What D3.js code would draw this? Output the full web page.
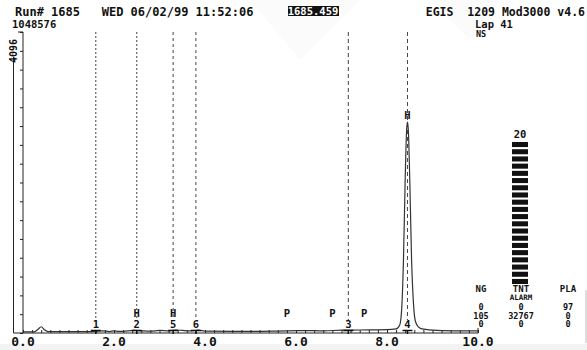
<!DOCTYPE html>
<html><head><meta charset="utf-8">
<script src="https://cdnjs.cloudflare.com/ajax/libs/d3/7.8.5/d3.min.js"></script>
<style>
html,body{margin:0;padding:0;background:#fff;}
svg{display:block;font-family:"DejaVu Sans Mono",monospace;font-weight:bold;}
text{white-space:pre;}
</style></head>
<body><svg id="c" width="587" height="350"></svg>
<script>
// ---- data ----
const traceTime = [0,0.25,0.33,0.4,0.47,0.55,1.0,1.5,1.6,1.75,1.9,2.0,2.1,2.3,2.45,2.6,2.8,3.0,3.2,3.35,3.5,3.7,3.85,4.0,5.0,5.8,6.2,6.6,7.0,7.2,7.6,8.0,8.2,8.28,8.32,8.36,8.40,8.43,8.45,8.47,8.50,8.54,8.58,8.62,8.68,8.75,9.0,9.5,10.0];
const traceValue = [15,15,50,85,45,18,18,20,25,30,20,30,22,28,35,30,25,35,30,40,35,30,38,25,22,30,32,30,38,40,42,45,55,110,300,950,2100,2750,2870,2750,2100,1000,420,170,90,60,40,30,28];
const peakTimes  = [1.6,2.5,3.3,3.8,7.15,8.45];
const peakNums   = ["1","2","5","6","3","4"];
const peakDash   = ["2,2","2,2","3,3","3,3","4,3","4,3"];
const hMarkTimes = [2.5,3.3];
const pMarkTimes = [5.8,6.8,7.5];
const xTickLabels = ["0.0","2.0","4.0","6.0","8.0","10.0"];
const xTickValues = [0,2,4,6,8,10];
const yMaxLabel = "4096";
const meterCount = 20;
const tableHead = ["NG","TNT","PLA"];
const tableRows = [["0","0","97"],["105","32767","0"],["0","0","0"]];

const svg = d3.select("#c");
// faint background watermark
svg.append("path").attr("d","M150,0 L250,0 L300,60 L360,0 L430,0 L470,40 L500,0 Z").attr("fill","#fbfbfb");
svg.append("rect").attr("x",0).attr("y",344).attr("width",587).attr("height",6).attr("fill","#f3f3f3");

const x = d3.scaleLinear().domain([0,10]).range([23,478]);
const y = d3.scaleLinear().domain([0,4096]).range([333,32]);

// header texts
const T = (tx,ty,s,size,anchor)=>svg.append("text").attr("x",tx).attr("y",ty).attr("font-size",size||11.5)
  .attr("text-anchor",anchor||"start").attr("fill","#111").text(s);
T(15,16,"Run# 1685   WED 06/02/99 11:52:06",12);
T(12,28,"1048576",10.5);
svg.append("rect").attr("x",288).attr("y",6).attr("width",51).attr("height",10).attr("fill","#111");
T(313,15,"1685.459",10.5,"middle").attr("fill","#fff");
T(585,16,"EGIS  1209 Mod3000 v4.6",11.5,"end");
T(475,28,"Lap 41",10.5);
T(476,37,"NS",8.5);

// y axis
const yAxis = d3.axisLeft(y).tickValues(d3.range(0,4097,256)).tickSize(3).tickFormat("");
const gy = svg.append("g").attr("transform","translate(23,0)").call(yAxis);
gy.select(".domain").attr("d",`M-5,${y(4096)}H0V${y(0)}`).attr("stroke","#222");
gy.selectAll(".tick line").attr("stroke","#222");
svg.append("path").attr("d",`M13.5,57V${y(0)}H23`).attr("fill","none").attr("stroke","#222");
svg.append("text").attr("transform",`translate(17,51) rotate(-90)`).attr("text-anchor","middle")
  .attr("font-size",10).attr("fill","#111").text(yMaxLabel);

// x axis
const xAxis = d3.axisTop(x).tickValues(d3.range(0,10.001,0.2)).tickSize(3).tickFormat("");
const gx = svg.append("g").attr("transform",`translate(0,${y(0)})`).call(xAxis);
gx.select(".domain").attr("d",`M${x(0)},0H${x(10)}V-5`).attr("stroke","#222");
gx.selectAll(".tick line").attr("stroke","#222");
svg.selectAll(".xl").data(xTickValues).enter().append("text")
  .attr("x",d=>x(d)).attr("y",346).attr("text-anchor","middle").attr("font-size",13).attr("fill","#111")
  .text((d,i)=>xTickLabels[i]);

// dotted peak lines
svg.selectAll(".pl").data(peakTimes).enter().append("line")
  .attr("x1",d=>x(d)).attr("x2",d=>x(d)).attr("y1",32).attr("y2",320)
  .attr("stroke","#444").attr("stroke-dasharray",(d,i)=>peakDash[i]);

// trace
const line = d3.line().x((d,i)=>x(traceTime[i])).y(d=>y(d)).curve(d3.curveMonotoneX);
svg.append("path").attr("d",line(traceValue)).attr("fill","none").attr("stroke","#333").attr("stroke-width",1.2);

// peak markers
peakTimes.forEach((t,i)=>{
  const px = x(t);
  svg.append("path").attr("d",`M${px-5},330.5H${px+5}M${px},330.5V334`).attr("stroke","#111").attr("stroke-width",1.5);
  T(px,328,peakNums[i],10.5,"middle");
});
hMarkTimes.forEach(t=>T(x(t),317,"H",10.5,"middle"));
pMarkTimes.forEach(t=>T(x(t),317,"P",10.5,"middle"));
T(x(8.45),119,"H",10.5,"middle");

// meter
T(520,138,"20",10.5,"middle");
const my = d3.scaleBand().domain(d3.range(meterCount)).range([142,284]).paddingInner(0.3);
svg.selectAll(".mb").data(d3.range(meterCount)).enter().append("rect")
  .attr("x",512).attr("width",16).attr("y",d=>my(d)).attr("height",my.bandwidth()).attr("fill","#111");

// table
const colX = [481,521,568];
tableHead.forEach((h,i)=>T(colX[i],292,h,9,"middle"));
T(521,300,"ALARM",7.5,"middle");
tableRows.forEach((r,j)=>r.forEach((v,i)=>T(colX[i],310+j*8.5,v,8.5,"middle")));
svg.append("line").attr("x1",586).attr("x2",586).attr("y1",290).attr("y2",343).attr("stroke","#bbb");
</script></body></html>
